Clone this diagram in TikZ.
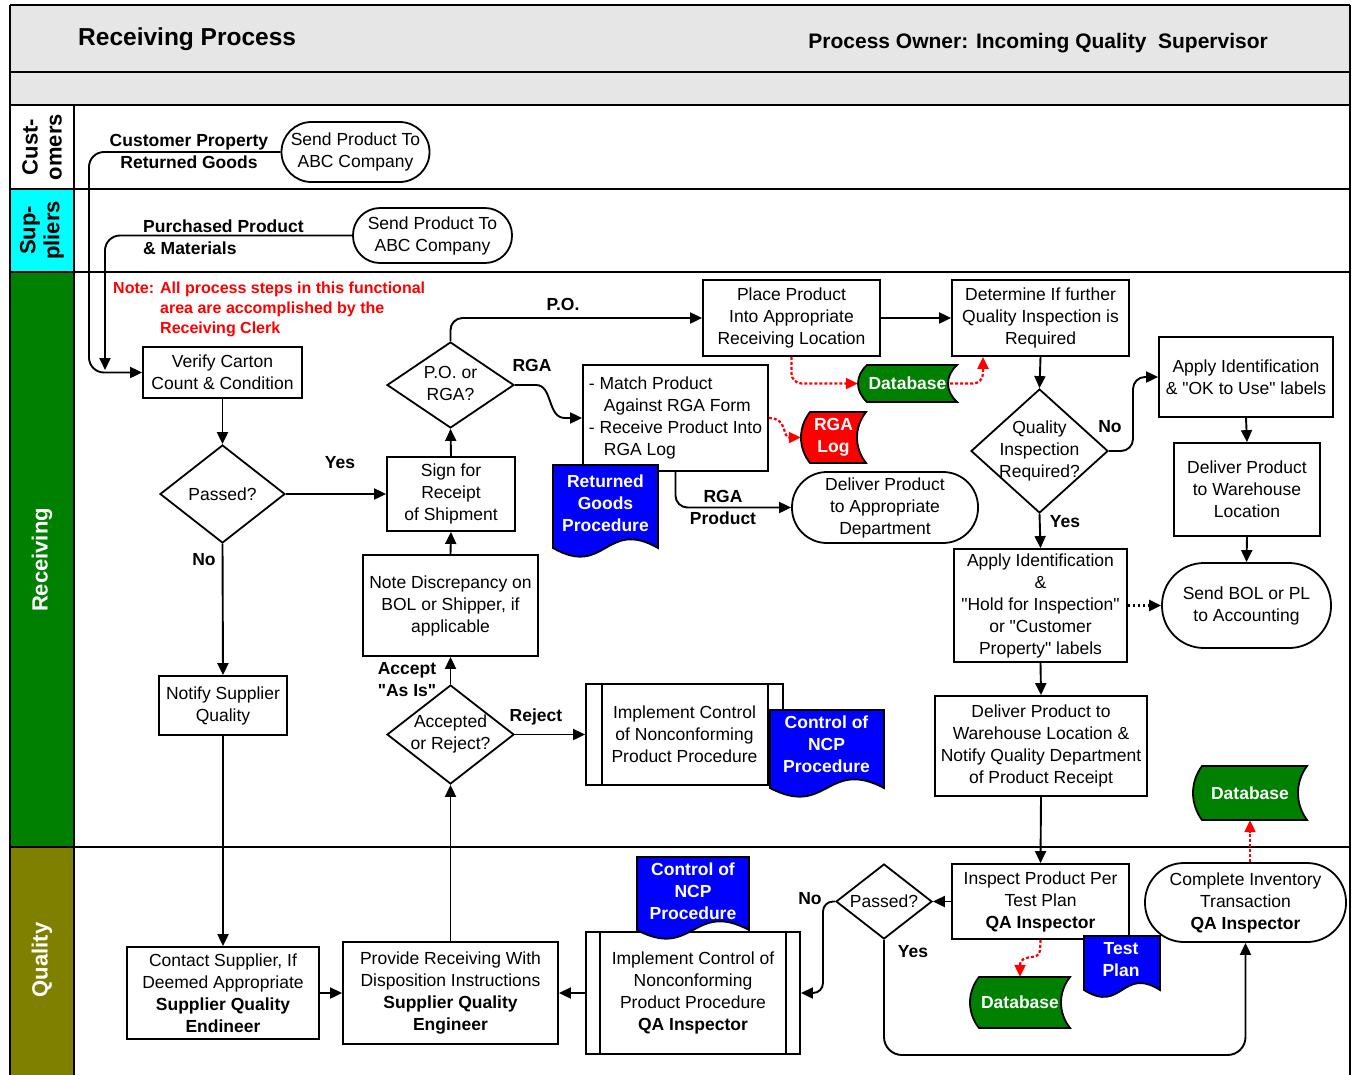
\documentclass[tikz,border=0pt]{standalone}
\usepackage{fontspec}
\setmainfont{Liberation Sans}[Ligatures=TeXOff]
\usetikzlibrary{arrows.meta,shapes.geometric,calc}

\definecolor{headgray}{RGB}{230,230,230}
\definecolor{supcyan}{RGB}{0,255,255}
\definecolor{recgreen}{RGB}{0,128,0}
\definecolor{qolive}{RGB}{128,128,0}
\definecolor{docblue}{RGB}{0,0,255}
\definecolor{logred}{RGB}{255,0,0}

\newcommand\bodyfont{\fontsize{17.5}{22}\selectfont}
% straight double quote
\newcommand\sq{\symbol{34}}

% stored-data symbol: x1 y1 x2 y2 fill
\newcommand\dbshape[5]{%
  \filldraw[fill=#5, draw=black, line width=1.8pt]
    ({#1+9},#2) -- (#3,#2)
    .. controls ({#3-12},{#2+0.3*(#4-#2)}) and ({#3-12},{#4-0.3*(#4-#2)}) .. (#3,#4)
    -- ({#1+9},#4)
    .. controls ({#1-3},{#4-0.3*(#4-#2)}) and ({#1-3},{#2+0.3*(#4-#2)}) .. ({#1+9},#2) -- cycle;}
% document symbol with wavy bottom: x1 ytop x2 ycorner fill amplitude
\newcommand\docshape[6]{%
  \filldraw[fill=#5, draw=black, line width=1.8pt]
    (#1,#2) -- (#3,#2) -- (#3,#4)
    .. controls ({(#1+#3)/2},{#4-#6}) and ({(#1+#3)/2},{#4+#6}) .. (#1,#4) -- cycle;}

\begin{document}
\begin{tikzpicture}[x=1pt,y=-1pt,
  box/.style={draw, line width=1.8pt, fill=white, align=center, font=\bodyfont, inner sep=2pt},
  term/.style={box, rounded corners=#1},
  dia/.style={draw, diamond, line width=1.8pt, fill=white, inner sep=0pt},
  dtext/.style={align=center, font=\bodyfont, inner sep=0pt},
  lbl/.style={align=center, font=\bodyfont\bfseries, inner sep=0pt},
  dbtext/.style={align=center, font=\bodyfont\bfseries, text=white, inner sep=0pt},
  lane/.style={line width=2.5pt},
  arr/.style={line width=1.9pt, -{Triangle[length=12pt,width=11pt]}},
  redarr/.style={draw=logred, line width=2.2pt, dash pattern=on 3pt off 2pt,
    -{Triangle[length=12pt,width=11pt,fill=logred]}},
  blkdot/.style={line width=2.6pt, dash pattern=on 2.5pt off 2.5pt,
    -{Triangle[length=12pt,width=11pt]}},
  innerline/.style={line width=1.8pt}
]
\useasboundingbox (0,0) rectangle (1356,1074);

% ---------- frame, header bands and lanes ----------
\fill[headgray] (10,5) rectangle (1350,105);
\fill[white] (10,105) rectangle (74,189);
\fill[supcyan] (10,189) rectangle (74,272);
\fill[recgreen] (10,272) rectangle (74,847);
\fill[qolive] (10,847) rectangle (74,1080);
\draw[lane] (10,5) -- (1350,5);
\draw[lane] (10,5) -- (10,1080);
\draw[lane] (1350,5) -- (1350,1080);
\foreach \yy in {72,105,189,272,847} \draw[lane] (10,\yy) -- (1350,\yy);
\draw[lane] (74,105) -- (74,1080);

\node[anchor=west, font=\fontsize{24.5}{28}\selectfont\bfseries, inner sep=0pt] (title) at (78,39) {Receiving Process};
\node[anchor=east, font=\fontsize{21}{25}\selectfont\bfseries, inner sep=0pt] (owner) at (1268,43) {Process Owner: Incoming Quality\ \ Supervisor};

\node[rotate=90, align=center, font=\fontsize{22}{24}\selectfont\bfseries] (lcust) at (42,147) {Cust-\\omers};
\node[rotate=90, align=center, font=\fontsize{22}{24}\selectfont\bfseries] (lsup) at (42,230.5) {Sup-\\pliers};
\node[rotate=90, text=white, font=\fontsize{22}{24}\selectfont\bfseries] (lrec) at (42,560) {Receiving};
\node[rotate=90, text=white, font=\fontsize{22}{24}\selectfont\bfseries] (lqual) at (42,960) {Quality};

% ---------- customers and suppliers ----------
\node[term=30pt, minimum width=148pt, minimum height=60pt] (send1) at (355.5,152) {Send Product To\\ABC Company};
\node[term=27pt, minimum width=159pt, minimum height=55pt] (send2) at (432.5,235.5) {Send Product To\\ABC Company};
\node[lbl] (lcp) at (189,151) {Customer Property\\Returned Goods};
\node[lbl, align=left, anchor=west] (lpp) at (143,237) {Purchased Product\\\& Materials};

% ---------- receiving ----------
\node[anchor=north west, align=left, text=logred, inner sep=0pt,
      font=\fontsize{16}{20}\selectfont\bfseries] (clerk) at (113,282)
  {\makebox[47pt][l]{Note:}All process steps in this functional\\
   \hspace*{47pt}area are accomplished by the\\
   \hspace*{47pt}Receiving Clerk};

\node[box, minimum width=159pt, minimum height=51pt] (verify) at (222.5,372.5) {Verify Carton\\Count \& Condition};
\node[dia, minimum width=125pt, minimum height=98pt] (passed) at (222.5,494) {};
\node[dtext] (passedt) at (222.5,494) {Passed?};
\node[box, minimum width=128pt, minimum height=74pt] (sign) at (451,494) {Sign for\\Receipt\\of Shipment};
\node[dia, minimum width=127pt, minimum height=86pt] (porga) at (450.5,385) {};
\node[dtext] (porgat) at (450.5,383) {P.O. or\\RGA?};
\node[box, minimum width=185pt, minimum height=106pt, align=left] (match) at (675.5,418)
  {- Match Product\\\hspace*{15pt}Against RGA Form\\- Receive Product Into\\\hspace*{15pt}RGA Log};
\node[box, minimum width=177pt, minimum height=76pt] (place) at (791.5,318) {Place Product\\Into Appropriate\\Receiving Location};
\node[box, minimum width=177pt, minimum height=76pt] (determine) at (1040.5,318) {Determine If further\\Quality Inspection is\\Required};

\dbshape{858}{365}{957}{402}{recgreen}
\node[dbtext, minimum width=99pt, minimum height=37pt] (db1) at (907.5,383.5) {Database};
\dbshape{801}{412}{866}{463}{logred}
\node[dbtext, minimum width=65pt, minimum height=51pt] (rgalog) at (833.5,437.5) {RGA\\Log};

\node[term=35pt, minimum width=186pt, minimum height=71pt] (deliver1) at (885,507.5) {Deliver Product\\to Appropriate\\Department};
\node[dia, minimum width=137pt, minimum height=124pt] (qir) at (1039.5,451) {};
\node[dtext] (qirt) at (1039.5,450.5) {Quality\\Inspection\\Required?};
\node[box, minimum width=174pt, minimum height=80pt] (applyok) at (1246,377) {Apply Identification\\\& \sq OK to Use\sq\ labels};
\node[box, minimum width=146pt, minimum height=93pt] (delwh) at (1247,489.5) {Deliver Product\\to Warehouse\\Location};
\node[term=42pt, minimum width=169pt, minimum height=85pt] (sendbol) at (1246.5,605.5) {Send BOL or PL\\to Accounting};
\node[box, minimum width=173pt, minimum height=113pt] (applyhold) at (1040.5,605.5)
  {Apply Identification\\\&\\\sq Hold for Inspection\sq\\or \sq Customer\\Property\sq\ labels};
\node[box, minimum width=212pt, minimum height=100pt] (delnotify) at (1041,746)
  {Deliver Product to\\Warehouse Location \&\\Notify Quality Department\\of Product Receipt};
\dbshape{1193}{766}{1307}{820}{recgreen}
\node[dbtext, minimum width=114pt, minimum height=54pt] (db2) at (1250,793) {Database};

\node[box, minimum width=175pt, minimum height=101pt] (note) at (450.5,605.5) {Note Discrepancy on\\BOL or Shipper, if\\applicable};
\node[dia, minimum width=127pt, minimum height=99pt] (accrej) at (450.5,734.5) {};
\node[dtext] (accrejt) at (450.5,734) {Accepted\\or Reject?};
\node[box, minimum width=128pt, minimum height=59pt] (notify) at (223,705.5) {Notify Supplier\\Quality};
\node[box, minimum width=197pt, minimum height=101pt] (implrec) at (684.5,734.5) {Implement Control\\of Nonconforming\\Product Procedure};
\draw[innerline] ([xshift=17pt]implrec.north west) -- ([xshift=17pt]implrec.south west);
\draw[innerline] ([xshift=-16pt]implrec.north east) -- ([xshift=-16pt]implrec.south east);

% documents over the boxes
\docshape{553}{465}{658}{548}{docblue}{30}
\node[dbtext] (retgoods) at (605.5,503) {Returned\\Goods\\Procedure};
\docshape{770}{710}{884}{788}{docblue}{30}
\node[dbtext] (ncp1) at (826.5,744) {Control of\\NCP\\Procedure};

% ---------- quality ----------
\node[box, minimum width=192pt, minimum height=92pt] (contact) at (223,993)
  {Contact Supplier, If\\Deemed Appropriate\\\textbf{Supplier Quality}\\\textbf{Endineer}};
\node[box, minimum width=215pt, minimum height=102pt] (provide) at (450.5,993)
  {Provide Receiving With\\Disposition Instructions\\\textbf{Supplier Quality}\\\textbf{Engineer}};
\node[box, minimum width=214pt, minimum height=122pt] (implqa) at (693,993)
  {Implement Control of\\Nonconforming\\Product Procedure\\\textbf{QA Inspector}};
\draw[innerline] ([xshift=15pt]implqa.north west) -- ([xshift=15pt]implqa.south west);
\draw[innerline] ([xshift=-15pt]implqa.north east) -- ([xshift=-15pt]implqa.south east);
\docshape{637}{857}{749}{930}{docblue}{30}
\node[dbtext] (ncp2) at (693,891) {Control of\\NCP\\Procedure};

\node[dia, minimum width=96pt, minimum height=75pt] (passed2) at (884,901.5) {};
\node[dtext] (passed2t) at (884,901.5) {Passed?};
\node[box, minimum width=177pt, minimum height=75pt] (inspect) at (1040.5,901.5)
  {Inspect Product Per\\Test Plan\\\textbf{QA Inspector}};
\node[term=39pt, minimum width=201pt, minimum height=79pt] (complete) at (1245.5,902.5)
  {Complete Inventory\\Transaction\\\textbf{QA Inspector}};
\dbshape{970}{977}{1070}{1028}{recgreen}
\node[dbtext, minimum width=100pt, minimum height=51pt] (db3) at (1020,1002.5) {Database};
\docshape{1084}{936}{1160}{990}{docblue}{24}
\node[dbtext] (testplan) at (1121,960) {Test\\Plan};

% ---------- connectors ----------
\coordinate (j1) at (105,370);
\draw[arr, rounded corners=15pt] (send1.west) -- (89,152) -- (89,372.5) -- (verify.west);
\draw[arr, rounded corners=15pt] (send2.west) -- (105,235.5) -- (j1);
\draw[arr] (verify.south) -- (passed.north);
\draw[arr] (passed.east) -- (sign.west);
\draw[arr] (passed.south) -- (notify.north);
\draw[arr] (notify.south) -- (contact.north);
\draw[arr] (sign.north) -- (porga.south);
\draw[arr, rounded corners=12pt] (porga.north) -- (450.5,318) -- (place.west);
\draw[arr] (porga.east) -- (536,385) .. controls (553,385) and (547,418) .. (565,418) -- (match.west);
\draw[arr, rounded corners=12pt] (match.south) -- (675.5,507.5) -- (deliver1.west);
\draw[redarr] (match.east) .. controls (788,418) and (782,437.5) .. (rgalog.west);
\draw[arr] (place.east) -- (determine.west);
\draw[redarr, rounded corners=10pt] (place.south) -- (791.5,383.5) -- (db1.west);
\draw[redarr, rounded corners=10pt] ([xshift=-7pt]db1.east) -- (983,383.5) -- ([xshift=-57.5pt]determine.south);
\draw[arr] (determine.south) -- (qir.north);
\draw[arr, rounded corners=12pt] (qir.east) -- (1133,451) -- (1133,377) -- (applyok.west);
\draw[arr] (applyok.south) -- (delwh.north);
\draw[arr] (delwh.south) -- (sendbol.north);
\draw[arr] (qir.south) -- (applyhold.north);
\draw[blkdot] (applyhold.east) -- (sendbol.west);
\draw[arr] (applyhold.south) -- (delnotify.north);
\draw[arr] (delnotify.south) -- (inspect.north);
\draw[arr] (inspect.west) -- (passed2.east);
\draw[arr, rounded corners=10pt] (passed2.west) -- (823,901.5) -- (823,993) -- (implqa.east);
\draw[arr, rounded corners=18pt] (passed2.south) -- (884,1055) -- (1245.5,1055) -- (complete.south);
\draw[redarr] (db2.south |- complete.north) -- (db2.south);
\draw[redarr] (inspect.south) -- (1040,950) .. controls (1040,962) and (1020,952) .. (1020,966) -- (db3.north);
\draw[arr] (implqa.west) -- (provide.east);
\draw[arr] (contact.east) -- (provide.west);
\draw[arr] (provide.north) -- (accrej.south);
\draw[arr] (accrej.north) -- (note.south);
\draw[arr] (note.north) -- (sign.south);
\draw[arr] (accrej.east) -- (implrec.west);

% ---------- connector labels ----------
\node[lbl] (lyes1) at (340,463) {Yes};
\node[lbl] (lno1) at (204,560) {No};
\node[lbl] (lpo) at (563,304) {P.O.};
\node[lbl] (lrga) at (532,365) {RGA};
\node[lbl] (lrgap) at (723,507) {RGA\\Product};
\node[lbl] (lno2) at (1110,427) {No};
\node[lbl] (lyes2) at (1065,522) {Yes};
\node[lbl] (lacc) at (407,680) {Accept\\\sq As Is\sq};
\node[lbl] (lrej) at (536,717) {Reject};
\node[lbl] (lno3) at (810,899) {No};
\node[lbl] (lyes3) at (913,952) {Yes};
\end{tikzpicture}
\end{document}
